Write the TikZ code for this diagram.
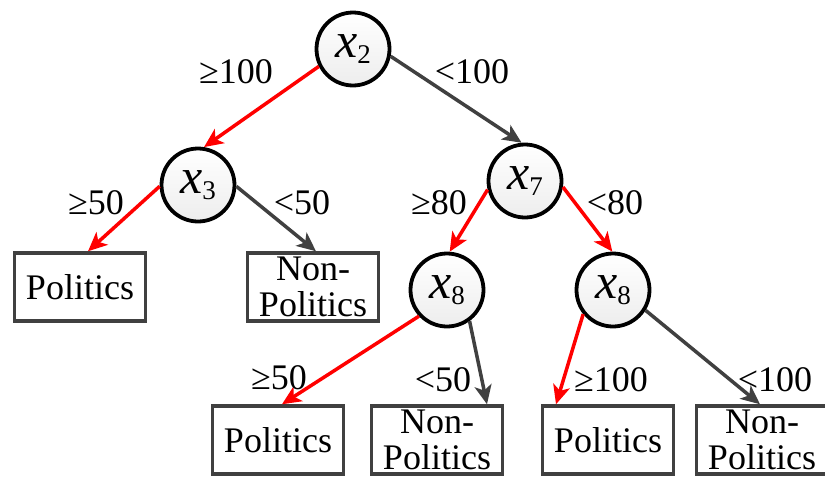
\documentclass[tikz,border=0pt]{standalone}
\usepackage{fontspec}
\newfontfamily\treefont{LiberationSerif}[Extension=.ttf, UprightFont=*-Regular, ItalicFont=*-Italic]
\usetikzlibrary{arrows.meta, positioning, calc}

\newcommand{\xvar}[1]{\textit{x}\raisebox{-6pt}{\fontsize{27}{27}\selectfont #1}}

\begin{document}
\begin{tikzpicture}[
      x=1pt, y=-1pt,
      feature/.style={draw=black, circle, line width=3.8pt, minimum size=73pt, inner sep=0pt, top color=white, bottom color=gray!14, font=\treefont\fontsize{50}{50}\selectfont},
      leaf/.style={draw=black!75, rectangle, line width=3.5pt, minimum width=131pt, minimum height=68pt, inner sep=0pt, align=center, fill=white, font=\treefont\fontsize{36}{36}\selectfont},
      cond/.style={font=\treefont\fontsize{36}{36}\selectfont, inner sep=0pt},
      redline/.style={draw=red, line width=3.5pt, -{Stealth[length=19pt, width=17pt, inset=5pt]}},
      grayline/.style={draw=black!75, line width=3.5pt, -{Stealth[length=19pt, width=17pt, inset=5pt]}}
  ]
      \useasboundingbox (0,0) rectangle (825,477);

      % Root
      \node [feature] (x2) at (353, 49) {\xvar{2}};

      % Second level
      \node [feature] (x3) at (198, 185) {\xvar{3}};
      \node [feature] (x7) at (525, 181) {\xvar{7}};

      % Third level
      \node [feature] (x8a) at (447, 290) {\xvar{8}};
      \node [feature] (x8b) at (613, 290) {\xvar{8}};

      % Leaves
      \node [leaf] (pol1) at (80, 287) {Politics};
      \node [leaf] (non1) at (313, 287) {Non-\\Politics};
      \node [leaf] (pol2) at (278, 440) {Politics};
      \node [leaf] (non2) at (437, 440) {Non-\\Politics};
      \node [leaf] (pol3) at (608, 440) {Politics};
      \node [leaf] (non3) at (762, 440) {Non-\\Politics};

      % Connections
      \path [redline] (x2.207) -- (x3.81);
      \path [grayline] (x2.349) -- (x7.95);
      \path [redline] (x3.182) -- ([xshift=8pt]pol1.north);
      \path [grayline] (x3.358) -- ([xshift=3pt]non1.north);
      \path [redline] (x7.193) -- (x8a.86);
      \path [redline] (x7.351) -- (x8b.91);
      \path [redline] (x8a.223) -- ([xshift=4pt]pol2.north);
      \path [grayline] (x8a.306) -- ([xshift=50pt]non2.north);
      \path [redline] (x8b.219) -- ([xshift=-52pt]pol3.north);
      \path [grayline] (x8b.328) -- ([xshift=-2pt]non3.north);

      % Branch conditions
      \node [cond] (c1) at (236, 72) {≥100};
      \node [cond] (c2) at (472, 72) {<100};
      \node [cond] (c3) at (96, 203) {≥50};
      \node [cond] (c4) at (302, 203) {<50};
      \node [cond] (c5) at (439, 203) {≥80};
      \node [cond] (c6) at (615, 203) {<80};
      \node [cond] (c7) at (279, 378) {≥50};
      \node [cond] (c8) at (443, 380) {<50};
      \node [cond] (c9) at (611, 380) {≥100};
      \node [cond] (c10) at (775, 380) {<100};
  \end{tikzpicture}
\end{document}
